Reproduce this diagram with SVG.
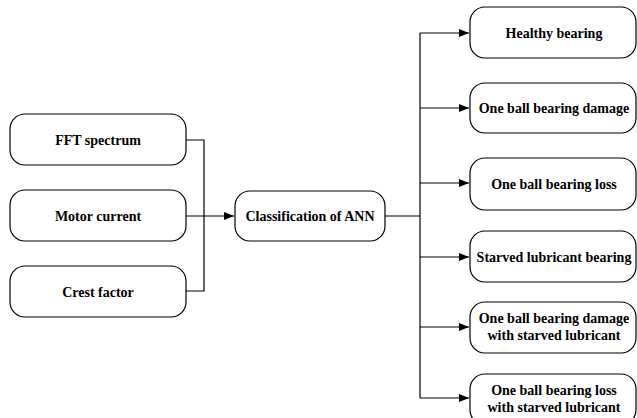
<svg xmlns="http://www.w3.org/2000/svg" width="637" height="418" viewBox="0 0 637 418">
<style>
.box{fill:#fff;stroke:#000;stroke-width:1.2}
.t{font-family:"Liberation Serif","Times New Roman",serif;font-weight:bold;font-size:14px;text-anchor:middle;fill:#000}
.c{fill:none;stroke:#000;stroke-width:1.2}
</style>
<defs>
<marker id="ah" markerWidth="10" markerHeight="8" refX="10" refY="4" orient="auto" markerUnits="userSpaceOnUse">
<path d="M0,0 L10,4 L0,8 Z" fill="#000"/>
</marker>
</defs>
<rect width="637" height="418" fill="#fff"/>
<g id="connectors">
<path class="c" d="M186,140 H204 V291 H186"/>
<path class="c" d="M186,216 H234" marker-end="url(#ah)"/>
<path class="c" d="M385,216 H420"/>
<path class="c" d="M420,33 V398"/>
<path class="c" d="M420,33 H469" marker-end="url(#ah)"/>
<path class="c" d="M420,108 H469" marker-end="url(#ah)"/>
<path class="c" d="M420,183 H469" marker-end="url(#ah)"/>
<path class="c" d="M420,257 H469" marker-end="url(#ah)"/>
<path class="c" d="M420,327 H469" marker-end="url(#ah)"/>
<path class="c" d="M420,398 H469" marker-end="url(#ah)"/>
</g>
<g id="fft"><rect class="box" x="10" y="114" width="176" height="51" rx="15"/><text class="t" x="98" y="145">FFT spectrum</text></g>
<g id="motor"><rect class="box" x="10" y="190" width="176" height="51" rx="15"/><text class="t" x="98" y="221">Motor current</text></g>
<g id="crest"><rect class="box" x="10" y="266" width="176" height="51" rx="15"/><text class="t" x="98" y="297">Crest factor</text></g>
<g id="ann"><rect class="box" x="235" y="191" width="150" height="50" rx="15"/><text class="t" x="310" y="221">Classification of ANN</text></g>
<g id="healthy"><rect class="box" x="470" y="7" width="166" height="51" rx="15"/><text class="t" x="554" y="38">Healthy bearing</text></g>
<g id="damage"><rect class="box" x="470" y="83" width="166" height="50" rx="15"/><text class="t" x="554" y="113">One ball bearing damage</text></g>
<g id="loss"><rect class="box" x="470" y="158" width="166" height="52" rx="15"/><text class="t" x="554" y="189">One ball bearing loss</text></g>
<g id="starved"><rect class="box" x="470" y="231" width="166" height="51" rx="15"/><text class="t" x="554" y="262">Starved lubricant bearing</text></g>
<g id="damage-starved"><rect class="box" x="470" y="302" width="166" height="51" rx="15"/><text class="t" x="554" y="323">One ball bearing damage</text><text class="t" x="554" y="340">with starved lubricant</text></g>
<g id="loss-starved"><rect class="box" x="470" y="374" width="166" height="51" rx="15"/><text class="t" x="554" y="395">One ball bearing loss</text><text class="t" x="554" y="412">with starved lubricant</text></g>
</svg>
